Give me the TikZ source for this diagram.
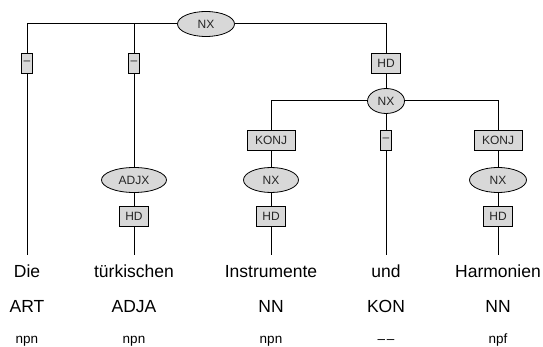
\documentclass[tikz,border=0pt]{standalone}
\usepackage{fontspec}
\setmainfont{Liberation Sans}
\usetikzlibrary{shapes.geometric}
\definecolor{nodegray}{RGB}{216,216,216}
\begin{document}
\begin{tikzpicture}[x=1pt,y=-1pt,
  lbox/.style={draw, fill=nodegray, rectangle, inner sep=0pt, minimum height=20pt, minimum width=29pt,
    font=\fontsize{12}{12}\selectfont, text=black!85, line width=0.8pt},
  dbox/.style={lbox, minimum width=11pt},
  kbox/.style={lbox, minimum width=48pt},
  lell/.style={draw, fill=nodegray, ellipse, inner sep=0pt, minimum height=25pt,
    font=\fontsize{12}{12}\selectfont, text=black!85, line width=0.8pt},
  word/.style={anchor=base, font=\fontsize{17.5}{18}\selectfont, inner xsep=0pt, inner ysep=9pt, text height=13pt},
  tag/.style={anchor=base, font=\fontsize{17.5}{18}\selectfont, inner sep=0pt},
  morph/.style={anchor=base, font=\fontsize{13.5}{14}\selectfont, inner sep=0pt},
  edge/.style={line width=1pt}]
\useasboundingbox (0,0) rectangle (543,347);
% nodes
\node[lell, minimum width=57pt] (nx1) at (206,24) {NX};
\node[dbox] (d1) at (27,63) {\textendash};
\node[dbox] (d2) at (134,63) {\textendash};
\node[lbox] (hd1) at (386,63) {HD};
\node[lell, minimum width=37pt] (nx2) at (386,101) {NX};
\node[kbox] (k1) at (271,140) {KONJ};
\node[dbox] (d3) at (386,140) {\textendash};
\node[kbox] (k2) at (498,140) {KONJ};
\node[lell, minimum width=65pt] (adjx) at (134,180) {ADJX};
\node[lell, minimum width=55pt] (nx3) at (271,180) {NX};
\node[lell, minimum width=57pt] (nx4) at (498,180) {NX};
\node[lbox] (hd2) at (134,216) {HD};
\node[lbox] (hd3) at (271,216) {HD};
\node[lbox] (hd4) at (498,216) {HD};
% words
\node[word] (w1) at (27,277) {Die};
\node[word] (w2) at (134,277) {türkischen};
\node[word] (w3) at (271,277) {Instrumente};
\node[word] (w4) at (386,277) {und};
\node[word] (w5) at (498,277) {Harmonien};
\node[tag] (t1) at (27,312) {ART};
\node[tag] (t2) at (134,312) {ADJA};
\node[tag] (t3) at (271,312) {NN};
\node[tag] (t4) at (386,312) {KON};
\node[tag] (t5) at (498,312) {NN};
\node[morph] (m1) at (27,343) {npn};
\node[morph] (m2) at (134,343) {npn};
\node[morph] (m3) at (271,343) {npn};
\node[morph] (m4) at (386,343) {\textendash\hspace{1.5pt}\textendash};
\node[morph] (m5) at (498,343) {npf};
% edges
\draw[edge] (nx1.west) -| (d1.north);
\draw[edge] (nx1.west) -| (d2.north);
\draw[edge] (nx1.east) -| (hd1.north);
\draw[edge] (d1) -- (w1.north);
\draw[edge] (d2) -- (adjx);
\draw[edge] (adjx) -- (hd2);
\draw[edge] (hd2) -- (w2.north);
\draw[edge] (hd1) -- (nx2);
\draw[edge] (nx2.west) -| (k1.north);
\draw[edge] (nx2.east) -| (k2.north);
\draw[edge] (nx2) -- (d3);
\draw[edge] (d3) -- (w4.north);
\draw[edge] (k1) -- (nx3);
\draw[edge] (nx3) -- (hd3);
\draw[edge] (hd3) -- (w3.north);
\draw[edge] (k2) -- (nx4);
\draw[edge] (nx4) -- (hd4);
\draw[edge] (hd4) -- (w5.north);
\end{tikzpicture}
\end{document}
